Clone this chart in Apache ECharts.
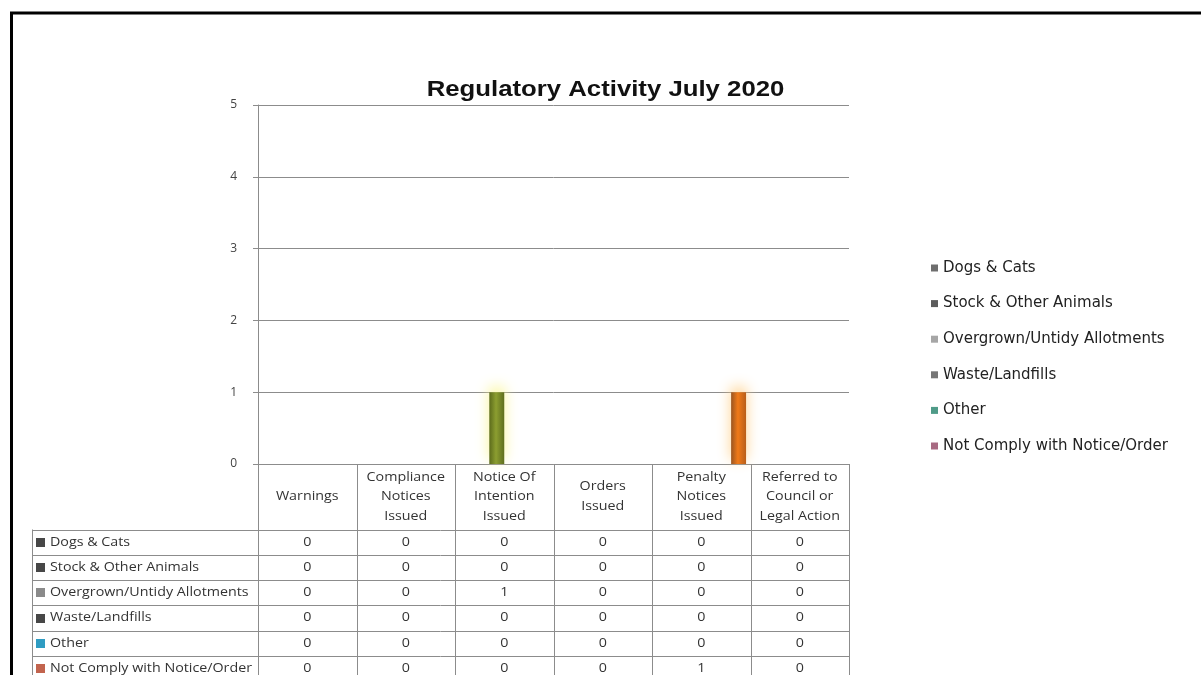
<!DOCTYPE html>
<html>
<head>
<meta charset="utf-8">
<title>Regulatory Activity July 2020</title>
<script src="https://cdn.jsdelivr.net/npm/echarts@6/dist/echarts.min.js"></script>
<style>
  html, body { margin: 0; padding: 0; background: #ffffff; }
  #chart { width: 1201px; height: 675px; }
</style>
</head>
<body>
<div id="chart"></div>
<script>
// Activity categories (columns of the data table)
const categories = [
  'Warnings',
  'Compliance Notices Issued',
  'Notice Of Intention Issued',
  'Orders Issued',
  'Penalty Notices Issued',
  'Referred to Council or Legal Action'
];
// Header text of each column, as it wraps in the table
const headerLabels = [
  'Warnings',
  'Compliance\nNotices\nIssued',
  'Notice Of\nIntention\nIssued',
  'Orders\nIssued',
  'Penalty\nNotices\nIssued',
  'Referred to\nCouncil or\nLegal Action'
];

// Counts per activity type
const seriesNames = [
  'Dogs & Cats',
  'Stock & Other Animals',
  'Overgrown/Untidy Allotments',
  'Waste/Landfills',
  'Other',
  'Not Comply with Notice/Order'
];
const dogsCats       = [0, 0, 0, 0, 0, 0];
const stockAnimals   = [0, 0, 0, 0, 0, 0];
const overgrown      = [0, 0, 1, 0, 0, 0];
const wasteLandfills = [0, 0, 0, 0, 0, 0];
const otherActivity  = [0, 0, 0, 0, 0, 0];
const notComply      = [0, 0, 0, 0, 1, 0];
const seriesValues = [dogsCats, stockAnimals, overgrown, wasteLandfills, otherActivity, notComply];

const yMin = 0, yMax = 5, yStep = 1;

// Styling
const barColors = [
  '#6a6a6a',
  '#4e4e4e',
  new echarts.graphic.LinearGradient(0, 0, 1, 0, [
    { offset: 0, color: '#5c6b1c' },
    { offset: 0.45, color: '#8c9e30' },
    { offset: 1, color: '#5f6e1e' }
  ]),
  '#5a5a5a',
  '#2e9ac0',
  new echarts.graphic.LinearGradient(0, 0, 1, 0, [
    { offset: 0, color: '#9a5520' },
    { offset: 0.45, color: '#f07a18' },
    { offset: 1, color: '#b85e1a' }
  ])
];
const glowColors = [null, null, 'rgba(250,245,140,0.9)', null, null, 'rgba(255,205,130,0.9)'];
const legendIconColors = ['#6e6e6e', '#5c5c5c', '#a6a6a6', '#777777', '#4f9b88', '#a86a82'];
const tableIconColors = ['#474747', '#474747', '#8a8a8a', '#474747', '#2f9cc2', '#c2644e'];

const tableFont = '"Open Sans", "Liberation Sans", sans-serif';
const textStretch = 1.19;   // table and title text is set slightly wide
const gridLine = '#8c8c8c';

const chart = echarts.init(document.getElementById('chart'), null, { renderer: 'canvas' });

const GRID = { left: 258, right: 352, top: 105, bottom: 211 };

chart.setOption({
  backgroundColor: '#ffffff',
  animation: false,
  legend: {
    orient: 'vertical',
    left: 931,
    top: 260,
    padding: 0,
    icon: 'rect',
    itemWidth: 7,
    itemHeight: 7,
    itemGap: 19.6,
    selectedMode: false,
    textStyle: {
      fontFamily: '"DejaVu Sans", "Liberation Sans", sans-serif',
      fontSize: 15,
      lineHeight: 16,
      color: '#222'
    },
    data: seriesNames.map((n, i) => ({ name: n, itemStyle: { color: legendIconColors[i] } }))
  },
  grid: GRID,
  xAxis: {
    type: 'category',
    data: categories,
    axisLine: { show: true, lineStyle: { color: gridLine, width: 1 } },
    axisTick: { show: false },
    axisLabel: { show: false },
    splitLine: { show: false }
  },
  yAxis: {
    type: 'value',
    min: yMin,
    max: yMax,
    interval: yStep,
    axisLine: { show: true, lineStyle: { color: gridLine, width: 1 } },
    axisTick: { show: true, length: 5, lineStyle: { color: gridLine } },
    axisLabel: {
      margin: 21,
      fontFamily: tableFont,
      fontSize: 12,
      color: '#444'
    },
    splitLine: { show: true, lineStyle: { color: gridLine, width: 1 } }
  },
  series: seriesNames.map((name, i) => ({
    name: name,
    type: 'bar',
    data: seriesValues[i],
    barGap: '0%',
    barCategoryGap: '9%',
    itemStyle: glowColors[i]
      ? { color: barColors[i], shadowColor: glowColors[i], shadowBlur: 14, shadowOffsetY: -5 }
      : { color: barColors[i] }
  }))
});

// Title and data table below the plot, aligned with the category bands of the x axis
function drawTable() {
  const c0 = chart.convertToPixel({ xAxisIndex: 0 }, 0);
  const c1 = chart.convertToPixel({ xAxisIndex: 0 }, 1);
  const band = c1 - c0;
  const bounds = categories.map((_, i) => chart.convertToPixel({ xAxisIndex: 0 }, i) - band / 2);
  bounds.push(bounds[bounds.length - 1] + band);

  const axisY = chart.convertToPixel({ yAxisIndex: 0 }, yMin);
  const headerH = 65.5;
  const rowH = 25.3;
  const tableLeft = 32;
  const rowTop = axisY + headerH;
  const bottom = rowTop + rowH * seriesNames.length;

  const g = [];
  const line = (x1, y1, x2, y2) => g.push({
    type: 'line', silent: true,
    shape: { x1, y1, x2, y2 },
    style: { stroke: gridLine, lineWidth: 1 }
  });
  const label = (text, x, y, align) => g.push({
    type: 'text', silent: true,
    x, y, scaleX: textStretch,
    style: {
      text, fontFamily: tableFont, fontSize: 12, lineHeight: 19.5, fill: '#333',
      verticalAlign: 'middle', align
    }
  });

  // chart title
  g.push({
    type: 'text', silent: true,
    x: (bounds[0] + bounds[bounds.length - 1]) / 2 + 52, y: 90, scaleX: 1.17,
    style: {
      text: 'Regulatory Activity July 2020',
      fontFamily: '"Liberation Sans", Arial, sans-serif',
      fontSize: 22, fontWeight: 'bold', fill: '#111',
      align: 'center', verticalAlign: 'middle'
    }
  });

  // column lines
  bounds.forEach(x => line(Math.round(x) + 0.5, axisY, Math.round(x) + 0.5, bottom));
  // left border of the series-name column
  line(tableLeft + 0.5, rowTop, tableLeft + 0.5, bottom);
  // row lines
  for (let r = 0; r <= seriesNames.length; r++) {
    const y = Math.round(rowTop + r * rowH) + 0.5;
    line(tableLeft, y, bounds[bounds.length - 1], y);
  }

  // column headers
  headerLabels.forEach((h, i) => label(h, (bounds[i] + bounds[i + 1]) / 2, axisY + headerH / 2, 'center'));

  seriesNames.forEach((name, r) => {
    const cy = rowTop + r * rowH + rowH / 2;
    g.push({
      type: 'rect', silent: true,
      shape: { x: tableLeft + 4, y: Math.round(cy - 4.5), width: 9, height: 9 },
      style: { fill: tableIconColors[r] }
    });
    label(name, tableLeft + 18, cy, 'left');
    seriesValues[r].forEach((v, i) => label(String(v), (bounds[i] + bounds[i + 1]) / 2, cy, 'center'));
  });

  // page frame
  g.push({ type: 'line', silent: true, shape: { x1: 10, y1: 13, x2: 1201, y2: 13 }, style: { stroke: '#000', lineWidth: 3 } });
  g.push({ type: 'line', silent: true, shape: { x1: 11.5, y1: 12, x2: 11.5, y2: 675 }, style: { stroke: '#000', lineWidth: 3 } });

  chart.setOption({ graphic: g });
}
drawTable();
</script>
</body>
</html>
